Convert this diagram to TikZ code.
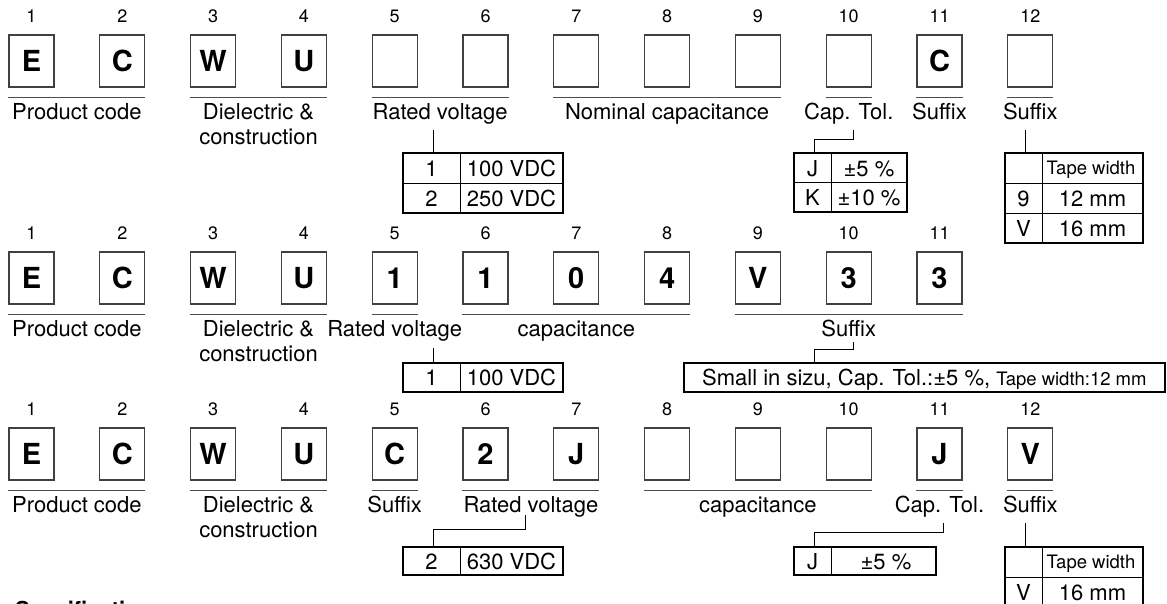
\documentclass[tikz,border=0pt]{standalone}
\usepackage{fontspec}
\setmainfont{TeX Gyre Heros}
\newfontfamily\symfont{DejaVu Sans}
\usetikzlibrary{calc}
\begin{document}
\begin{tikzpicture}[x=1pt,y=-1pt,
 digbox/.style={draw=black!75, line width=1.3pt, minimum width=45pt, minimum height=52pt, inner sep=0pt, font=\fontsize{29}{30}\selectfont\bfseries},
 numlbl/.style={font=\fontsize{18}{20}\selectfont, inner sep=0pt},
 grouplbl/.style={font=\fontsize{22}{25}\selectfont, inner sep=0pt, anchor=base, align=center},
 uline/.style={draw=black!70, line width=1.5pt},
 tbl/.style={draw=black, line width=2pt, inner sep=0pt},
 cellline/.style={draw=black, line width=1pt},
 celltxt/.style={font=\fontsize{22}{24}\selectfont, inner sep=0pt, anchor=base},
 smalltxt/.style={font=\fontsize{18.5}{20}\selectfont, inner sep=0pt, anchor=base},
 conn/.style={draw=black, line width=1pt},
]
\useasboundingbox (0,0) rectangle (1167,603);

% ---------------- Row 1 ----------------
\foreach \i/\t in {1/E,2/C,3/W,4/U,5/,6/,7/,8/,9/,10/,11/C,12/} {
  \node[digbox] (a\i) at ({31.5+90.8*(\i-1)},61) {\t};
  \node[numlbl] (an\i) at ([yshift=18pt]a\i.north) {\i};
}
\draw[uline] ([yshift=-10pt]a1.south west) -- ([yshift=-10pt]a2.south east);
\draw[uline] ([yshift=-10pt]a3.south west) -- ([yshift=-10pt]a4.south east);
\draw[uline] ([yshift=-10pt]a5.south west) -- ([yshift=-10pt]a6.south east);
\draw[uline] ([yshift=-10pt]a7.south west) -- ([yshift=-10pt]a9.south east);
\draw[uline] ([yshift=-10pt]a10.south west) -- ([yshift=-10pt]a10.south east);
\draw[uline] ([yshift=-10pt]a11.south west) -- ([yshift=-10pt]a11.south east);
\draw[uline] ([yshift=-10pt]a12.south west) -- ([yshift=-10pt]a12.south east);

\node[grouplbl] (al1) at (76.9,119.5) {Product code};
\node[grouplbl] (al2) at (258.5,144.5) {Dielectric \&\\construction};
\node[grouplbl] (al3) at (440.1,119.5) {Rated voltage};
\node[grouplbl] (al4) at (667.1,119.5) {Nominal capacitance};
\node[grouplbl] (al5) at (848.7,119.5) {Cap. Tol.};
\node[grouplbl] (al6) at (939.5,119.5) {Suffix};
\node[grouplbl] (al7) at (1030.3,119.5) {Suffix};

% voltage table
\node[tbl, minimum width=160pt, minimum height=60pt] (t1) at (483,183) {};
\draw[cellline] (403,183) -- (563,183);
\draw[cellline] (460,153) -- (460,213);
\node[celltxt] at (431.5,176) {1};
\node[celltxt] at (511.5,176) {100 VDC};
\node[celltxt] at (431.5,206) {2};
\node[celltxt] at (511.5,206) {250 VDC};
\coordinate (k1) at (433,130);
\draw[conn] (k1) -- (k1 |- t1.north);

% cap tol table
\node[tbl, minimum width=113pt, minimum height=59pt] (t2) at (850.5,182.5) {};
\draw[cellline] (794,182.5) -- (907,182.5);
\draw[cellline] (831,153) -- (831,212);
\node[celltxt] at (812.5,176) {J};
\node[celltxt] at (869,176) {±5 \%};
\node[celltxt] at (812.5,205.5) {K};
\node[celltxt] at (869,205.5) {±10 \%};
\coordinate (k2) at (853,130);
\coordinate (k2e) at (814,139);
\draw[conn] (k2) |- (k2e) -- (k2e |- t2.north);

% tape table
\node[tbl, minimum width=138pt, minimum height=90pt] (t3) at (1074,198) {};
\draw[cellline] (1005,183) -- (1143,183);
\draw[cellline] (1005,213) -- (1143,213);
\draw[cellline] (1042,153) -- (1042,243);
\node[smalltxt] at (1091,174.5) {Tape width};
\node[celltxt] at (1023.5,206) {9};
\node[celltxt] at (1092.5,206) {12 mm};
\node[celltxt] at (1023.5,236) {V};
\node[celltxt] at (1092.5,236) {16 mm};
\coordinate (k3) at (1025,130);
\draw[conn] (k3) -- (k3 |- t3.north);

% ---------------- Row 2 ----------------
\foreach \i/\t in {1/E,2/C,3/W,4/U,5/1,6/1,7/0,8/4,9/V,10/3,11/3} {
  \node[digbox] (b\i) at ({31.5+90.8*(\i-1)},278) {\t};
  \node[numlbl] (bn\i) at ([yshift=18pt]b\i.north) {\i};
}
\draw[uline] ([yshift=-10pt]b1.south west) -- ([yshift=-10pt]b2.south east);
\draw[uline] ([yshift=-10pt]b3.south west) -- ([yshift=-10pt]b4.south east);
\draw[uline] ([yshift=-10pt]b5.south west) -- ([yshift=-10pt]b5.south east);
\draw[uline] ([yshift=-10pt]b6.south west) -- ([yshift=-10pt]b8.south east);
\draw[uline] ([yshift=-10pt]b9.south west) -- ([yshift=-10pt]b11.south east);

\node[grouplbl] (bl1) at (76.9,336.5) {Product code};
\node[grouplbl] (bl2) at (258.5,361.5) {Dielectric \&\\construction};
\node[grouplbl] (bl3) at (394.7,336.5) {Rated voltage};
\node[grouplbl] (bl4) at (576.3,336.5) {capacitance};
\node[grouplbl] (bl5) at (848.7,336.5) {Suffix};

\node[tbl, minimum width=160pt, minimum height=29pt] (t4) at (483,377.5) {};
\draw[cellline] (460,363) -- (460,392);
\node[celltxt] at (431.5,385.5) {1};
\node[celltxt] at (511.5,385.5) {100 VDC};
\coordinate (k4) at (433,348);
\draw[conn] (k4) -- (k4 |- t4.north);

\node[tbl, minimum width=481pt, minimum height=29pt] (t5) at (924.5,377.5) {};
\node[celltxt, anchor=base west] at (702,385.5) {Small in sizu, Cap. Tol.:±5 \%, {\fontsize{18.5}{20}\selectfont Tape width:12 mm}};
\coordinate (k5) at (853,342);
\coordinate (k5e) at (814,349);
\draw[conn] (k5) |- (k5e) -- (k5e |- t5.north);

% ---------------- Row 3 ----------------
\foreach \i/\t in {1/E,2/C,3/W,4/U,5/C,6/2,7/J,8/,9/,10/,11/J,12/V} {
  \node[digbox] (c\i) at ({31.5+90.8*(\i-1)},454) {\t};
  \node[numlbl] (cn\i) at ([yshift=18pt]c\i.north) {\i};
}
\draw[uline] ([yshift=-10pt]c1.south west) -- ([yshift=-10pt]c2.south east);
\draw[uline] ([yshift=-10pt]c3.south west) -- ([yshift=-10pt]c4.south east);
\draw[uline] ([yshift=-10pt]c5.south west) -- ([yshift=-10pt]c5.south east);
\draw[uline] ([yshift=-10pt]c6.south west) -- ([yshift=-10pt]c7.south east);
\draw[uline] ([yshift=-10pt]c8.south west) -- ([yshift=-10pt]c10.south east);
\draw[uline] ([yshift=-10pt]c11.south west) -- ([yshift=-10pt]c11.south east);
\draw[uline] ([yshift=-10pt]c12.south west) -- ([yshift=-10pt]c12.south east);

\node[grouplbl] (cl1) at (76.9,512.5) {Product code};
\node[grouplbl] (cl2) at (258.5,537.5) {Dielectric \&\\construction};
\node[grouplbl] (cl3) at (394.7,512.5) {Suffix};
\node[grouplbl] (cl4) at (530.9,512.5) {Rated voltage};
\node[grouplbl] (cl5) at (757.9,512.5) {capacitance};
\node[grouplbl] (cl6) at (939.5,512.5) {Cap. Tol.};
\node[grouplbl] (cl7) at (1030.3,512.5) {Suffix};

\node[tbl, minimum width=160pt, minimum height=28pt] (t6) at (483,561) {};
\draw[cellline] (460,547) -- (460,575);
\node[celltxt] at (431.5,569) {2};
\node[celltxt] at (511.5,569) {630 VDC};
\coordinate (k6) at (525,515);
\coordinate (k6e) at (433,529);
\draw[conn] (k6) |- (k6e) -- (k6e |- t6.north);

\node[tbl, minimum width=142pt, minimum height=28pt] (t7) at (865,561) {};
\draw[cellline] (831,547) -- (831,575);
\node[celltxt] at (812.5,569) {J};
\node[celltxt] at (886,569) {±5 \%};
\coordinate (k7) at (943,523);
\coordinate (k7e) at (814,532);
\draw[conn] (k7) |- (k7e) -- (k7e |- t7.north);

\node[tbl, minimum width=138pt, minimum height=60pt] (t8) at (1074,577) {};
\draw[cellline] (1005,577) -- (1143,577);
\draw[cellline] (1042,547) -- (1042,607);
\node[smalltxt] at (1091,568.5) {Tape width};
\node[celltxt] at (1023.5,600) {V};
\node[celltxt] at (1092.5,600) {16 mm};
\coordinate (k8) at (1025,523);
\draw[conn] (k8) -- (k8 |- t8.north);

% cut-off heading at the bottom (cut off in the reference as well)
\begin{scope}
\clip (0,0) rectangle (1167,603);
\node[anchor=base west, inner sep=0pt, font=\fontsize{22}{24}\selectfont\bfseries] (spec) at (-1,617) {\raisebox{1pt}{\symfont\fontsize{17}{17}\selectfont ■}Specifications};
\end{scope}
\end{tikzpicture}
\end{document}
